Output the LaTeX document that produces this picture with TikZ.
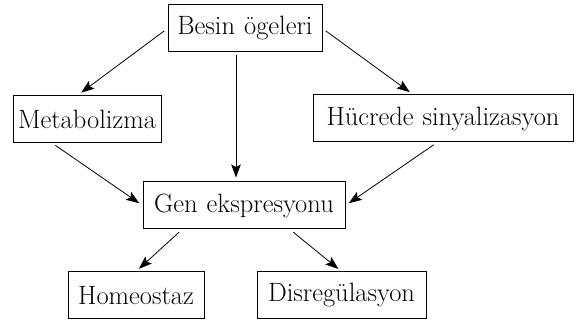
\documentclass[tikz,border=0pt]{standalone}
\usepackage{fontspec}
\usepackage{tikz}
\usetikzlibrary{arrows.meta}
\usetikzlibrary{positioning}

\newcommand{\boxfont}{\fontsize{26.5}{30}\selectfont\spaceskip 9pt plus 2pt\relax}

\begin{document}
\begin{tikzpicture}
          [x=1pt, y=1pt,
           every node/.style={draw, rectangle, line width=1pt, inner xsep=1pt,
             minimum height=47pt, font=\boxfont},
           link/.style={->, line width=0.8pt, shorten >= 4pt, shorten <= 4pt},
           >={Stealth[length=13pt, width=9.5pt, inset=2.5pt]}]
          \useasboundingbox (0,0) rectangle (576,321);

          \node (besin) [minimum width=154pt] at (245,292.5) {Besin ögeleri};
          \node (metab) [minimum width=148pt] at (87,202) {Metabolizma};
          \node (hucre) [minimum width=260pt] at (443,202.5) {Hücrede sinyalizasyon};
          \node (gen) [minimum width=202pt] at (244,115.5) {Gen ekspresyonu};
          \node (homeo) [minimum width=136pt] at (136,25.5) {Homeostaz};
          \node (disreg) [minimum width=169pt] at (341.5,25.5) {Disregülasyon};

          \draw[link] (besin.west) -- ([xshift=-9pt]metab.north);
          \draw[link] (besin.east) -- ([xshift=-30pt]hucre.north);
          \draw[link, shorten <= 3pt] ([xshift=-9pt]besin.south) -- ([xshift=-8pt]gen.north);

          \draw[link] ([xshift=-35pt]metab.south) -- (gen.west);
          \draw[link] ([xshift=-6pt]hucre.south) -- (gen.east);

          \draw[link] ([xshift=-62pt]gen.south) -- (homeo.north);
          \draw[link] ([xshift=46pt]gen.south) -- (disreg.north);

        \end{tikzpicture}
\end{document}
